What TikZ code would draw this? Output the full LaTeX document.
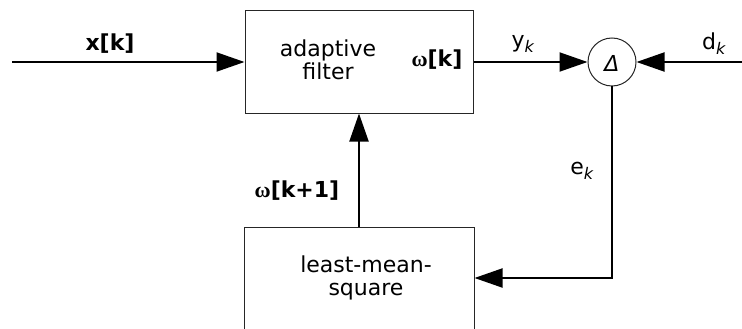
\documentclass[tikz,border=0pt]{standalone}
\usepackage{fontspec}
\setmainfont{DejaVu Sans}
\newfontfamily\omegafont{Liberation Serif}
\usetikzlibrary{arrows.meta}
\newcommand{\om}{{\omegafont\bfseries ω}}
\newcommand{\sub}[1]{\raisebox{-5pt}{\fontsize{16}{16}\selectfont\textit{#1}}}
\begin{document}
\begin{tikzpicture}[x=1pt,y=-1pt,
  blk/.style={draw=black!85,line width=1pt,rectangle,inner sep=0pt},
  arr/.style={line width=2pt,-{Triangle[length=28pt,width=19pt]}},
  lbl/.style={font=\fontsize{22}{26}\selectfont,inner sep=0pt},
  sumnode/.style={draw=black!85,line width=1pt,circle,inner sep=0pt,minimum size=48pt}]
\useasboundingbox (0,0) rectangle (742,329);
\node[blk,minimum width=228pt,minimum height=102pt] (af) at (359,62) {};
\node[blk,minimum width=230pt,minimum height=102pt] (lms) at (359,278) {};
\node[sumnode] (sum) at (612,62) {};
\node[lbl] (delta) at (612,63) {\textit{Δ}};
\coordinate (in) at (12,62);
\coordinate (din) at (742,62);
\node[lbl,align=center] (aft) at (328,60) {adaptive\\[-3pt]filter};
\node[lbl,align=center] (lmst) at (366,278) {least-mean-\\[-3pt]square};
\node[lbl] (wk) at (437,60) {\om\textbf{[k]}};
\node[lbl] (xk) at (110,44) {\textbf{x[k]}};
\node[lbl] (yk) at (523,44) {y\sub{k}};
\node[lbl] (dk) at (714,44) {d\sub{k}};
\node[lbl] (ek) at (582,171) {e\sub{k}};
\node[lbl] (wk1) at (297,191) {\om\textbf{[k+1]}};
\draw[arr] (in) -- (af.west);
\draw[arr] (af.east) -- (sum.west);
\draw[arr] (din) -- (sum.east);
\draw[arr] (sum.south) |- (lms.east);
\draw[arr] (lms.north) -- (af.south);
\end{tikzpicture}
\end{document}
